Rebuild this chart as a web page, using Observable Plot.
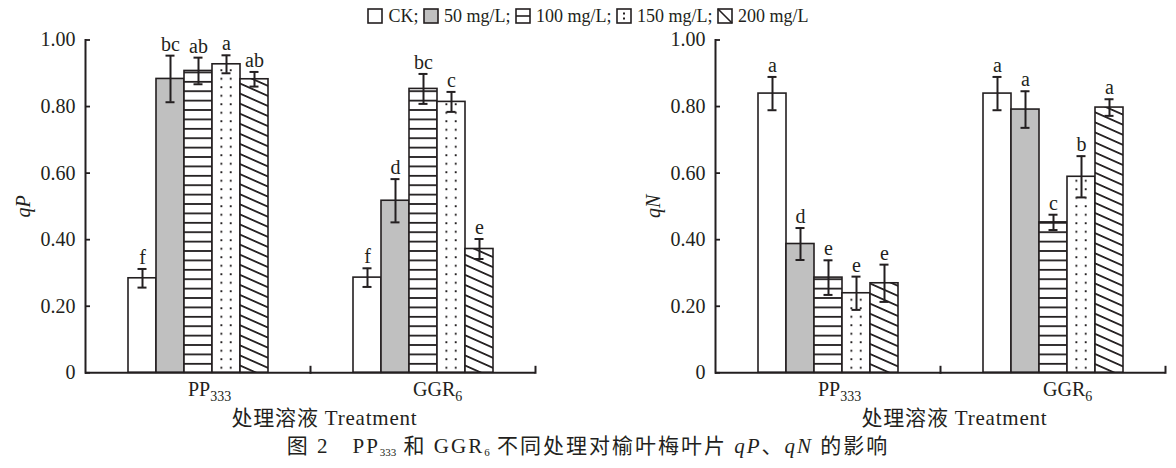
<!DOCTYPE html>
<html><head><meta charset="utf-8">
<script src="https://cdn.jsdelivr.net/npm/d3@7"></script>
<script src="https://cdn.jsdelivr.net/npm/@observablehq/plot@0.6"></script>
<style>
body{margin:0;width:1176px;height:468px;background:#fff;position:relative;overflow:hidden;font-family:"Liberation Serif","Noto Sans CJK SC",serif;color:#231f20;}
#legend{position:absolute;top:5px;left:0;width:1176px;text-align:center;font-size:18px;line-height:22px;white-space:nowrap}
#legend .it{display:inline-flex;align-items:center;}
#legend svg{margin-right:5px;}
#panels{position:absolute;top:26px;left:0;display:flex}
#caption{position:absolute;top:435px;left:0;width:1176px;text-align:center;font-size:21px;letter-spacing:2px;line-height:22px;white-space:nowrap}
#caption sub{font-size:11px;vertical-align:-3px;line-height:0;letter-spacing:0}
svg [aria-label="y-axis label"] text{font-style:italic}
</style></head><body>
<div id="legend"></div>
<div id="panels"></div>
<div id="caption">图 2　PP<sub>333</sub> 和 GGR<sub>6</sub> 不同处理对榆叶梅叶片 <i>qP</i>、<i>qN</i> 的影响</div>
<script>
const groups = ["PP333", "GGR6"];
const treatments = ["CK", "50 mg/L", "100 mg/L", "150 mg/L", "200 mg/L"];
const yTicks = [0, 0.2, 0.4, 0.6, 0.8, 1.0];

const qP_PP333 = [0.284, 0.883, 0.907, 0.927, 0.882];
const qP_PP333_err = [0.028, 0.07, 0.04, 0.027, 0.022];
const qP_PP333_sig = ["f", "bc", "ab", "a", "ab"];
const qP_GGR6 = [0.286, 0.517, 0.853, 0.814, 0.372];
const qP_GGR6_err = [0.028, 0.065, 0.045, 0.03, 0.03];
const qP_GGR6_sig = ["f", "d", "bc", "c", "e"];

const qN_PP333 = [0.839, 0.387, 0.286, 0.239, 0.269];
const qN_PP333_err = [0.05, 0.048, 0.052, 0.05, 0.056];
const qN_PP333_sig = ["a", "d", "e", "e", "e"];
const qN_GGR6 = [0.839, 0.791, 0.452, 0.589, 0.797];
const qN_GGR6_err = [0.05, 0.055, 0.023, 0.062, 0.025];
const qN_GGR6_sig = ["a", "a", "c", "b", "a"];

const INK = "#231f20";
const GRAY = "#c0c0c0";
const FONT = '"Liberation Serif","Noto Sans CJK SC",serif';
const W = 588, H = 406, MT = 13.5, MB = 59.7;

// legend
const legend = document.getElementById("legend");
treatments.forEach((t, i) => {
  const span = document.createElement("span");
  span.className = "it";
  const s = d3.create("svg").attr("width", 16).attr("height", 16);
  s.append("rect").attr("x", 1).attr("y", 1).attr("width", 14).attr("height", 14)
    .attr("fill", i === 1 ? GRAY : "#fff").attr("stroke", INK).attr("stroke-width", 1.6);
  if (i === 2) s.append("line").attr("x1", 1).attr("x2", 15).attr("y1", 8).attr("y2", 8).attr("stroke", INK).attr("stroke-width", 1.6);
  if (i === 3) { s.append("rect").attr("x", 7).attr("y", 4.5).attr("width", 2).attr("height", 2).attr("fill", INK);
                 s.append("rect").attr("x", 7).attr("y", 9.5).attr("width", 2).attr("height", 2).attr("fill", INK); }
  if (i === 4) s.append("line").attr("x1", 1).attr("x2", 15).attr("y1", 1).attr("y2", 15).attr("stroke", INK).attr("stroke-width", 1.6);
  span.appendChild(s.node());
  span.appendChild(document.createTextNode(t + (i < treatments.length - 1 ? ";\u00a0" : "")));
  legend.appendChild(span);
});

function panel(id, label, vals, errs, sigs, mLeft, mRight) {
  const data = [];
  groups.forEach((g, gi) => treatments.forEach((t, ti) => data.push({
    group: g, treatment: t, value: vals[gi][ti], err: errs[gi][ti], sig: sigs[gi][ti]
  })));
  const lo = d => d.value - d.err, hi = d => d.value + d.err;
  const fills = ["#ffffff", GRAY, `url(#hl-${id})`, `url(#dt-${id})`, `url(#dg-${id})`];
  const plotH = H - MT - MB;
  const plot = Plot.plot({
    width: W, height: H,
    marginLeft: mLeft, marginRight: mRight, marginTop: MT, marginBottom: MB,
    style: {fontFamily: FONT, fontSize: "20px", color: INK, background: "transparent", overflow: "visible"},
    fx: {domain: groups, padding: 0},
    x: {domain: treatments, paddingInner: 0, paddingOuter: 1.49, axis: null},
    y: {domain: [0, 1]},
    color: {domain: treatments, range: fills},
    marks: [
      Plot.axisFx({anchor: "bottom", tickSize: 0, tickPadding: 9, textAnchor: "start", dx: -10,
        fontSize: 20, label: "处理溶液 Treatment", labelAnchor: "center", labelOffset: 52}),
      Plot.axisY(yTicks, {anchor: "left", tickSize: -5, tickPadding: 15, strokeWidth: 1.8,
        tickFormat: d => d === 0 ? "0" : d.toFixed(2), fontSize: 20,
        label, labelAnchor: "center", labelOffset: 70, labelArrow: "none"}),
      Plot.barY(data, {fx: "group", x: "treatment", y: "value", fill: "treatment", stroke: INK, strokeWidth: 1.6}),
      Plot.ruleX(data, {fx: "group", x: "treatment", y1: lo, y2: hi, stroke: INK, strokeWidth: 2}),
      Plot.tickY(data, {fx: "group", x: "treatment", y: lo, inset: 9.5, stroke: INK, strokeWidth: 2}),
      Plot.tickY(data, {fx: "group", x: "treatment", y: hi, inset: 9.5, stroke: INK, strokeWidth: 2}),
      Plot.text(data, {fx: "group", x: "treatment", y: hi, text: "sig", lineAnchor: "bottom", dy: -5, fontSize: 20, fill: INK}),
      Plot.ruleY([0], {stroke: INK, strokeWidth: 2}),
      // y-axis line (leftmost facet only)
      Plot.frame({anchor: "left", facetAnchor: "left", stroke: INK, strokeWidth: 2}),
      // short inward tick at the right edge of each group
      Plot.frame({anchor: "right", insetTop: plotH - 6, stroke: INK, strokeWidth: 2})
    ]
  });
  const svg = d3.select(plot);
  const xs = plot.scale("x"), ys = plot.scale("y");
  const bw = xs.bandwidth;
  const defs = svg.insert("defs", ":first-child");
  const hl = defs.append("pattern").attr("id", `hl-${id}`).attr("patternUnits", "userSpaceOnUse")
    .attr("width", 10).attr("height", 9.4).attr("y", ys.apply(0));
  hl.append("rect").attr("width", 10).attr("height", 9.4).attr("fill", "#fff");
  hl.append("rect").attr("y", 0).attr("width", 10).attr("height", 1.8).attr("fill", INK);
  const x150 = xs.apply(treatments[3]);
  const dt = defs.append("pattern").attr("id", `dt-${id}`).attr("patternUnits", "userSpaceOnUse")
    .attr("x", x150).attr("y", ys.apply(0)).attr("width", bw).attr("height", 8.5);
  dt.append("rect").attr("width", bw).attr("height", 8.5).attr("fill", "#fff");
  dt.append("rect").attr("x", bw / 3 - 0.9).attr("y", 3).attr("width", 1.9).attr("height", 1.9).attr("fill", INK);
  dt.append("rect").attr("x", 2 * bw / 3 - 0.9).attr("y", 3).attr("width", 1.9).attr("height", 1.9).attr("fill", INK);
  const dg = defs.append("pattern").attr("id", `dg-${id}`).attr("patternUnits", "userSpaceOnUse")
    .attr("width", 20).attr("height", 9.2).attr("patternTransform", "rotate(24)");
  dg.append("rect").attr("width", 20).attr("height", 9.2).attr("fill", "#fff");
  dg.append("rect").attr("y", 0).attr("width", 20).attr("height", 1.8).attr("fill", INK);

  svg.selectAll('[aria-label="y-axis label"] text').each(function () {
    const t = d3.select(this); t.text(t.text().replace(/[\u2190-\u2193]/g, "").trim());
  });
  svg.selectAll('[aria-label="fx-axis label"] text').attr("dx", 14).attr("letter-spacing", "0.8px").attr("font-size", 21);
  svg.selectAll('[aria-label="fx-axis tick label"] text').each(function () {
    const t = d3.select(this), s = t.text(), m = s.match(/^(\D+)(\d+)$/);
    if (!m) return;
    t.text(m[1]);
    t.append("tspan").attr("font-size", 14).attr("dy", "0.35em").text(m[2]);
  });
  return plot;
}

const panels = document.getElementById("panels");
panels.appendChild(panel("p", "qP", [qP_PP333, qP_GGR6], [qP_PP333_err, qP_GGR6_err], [qP_PP333_sig, qP_GGR6_sig], 85, 53));
panels.appendChild(panel("n", "qN", [qN_PP333, qN_GGR6], [qN_PP333_err, qN_GGR6_err], [qN_PP333_sig, qN_GGR6_sig], 127, 11));
</script>
</body></html>
